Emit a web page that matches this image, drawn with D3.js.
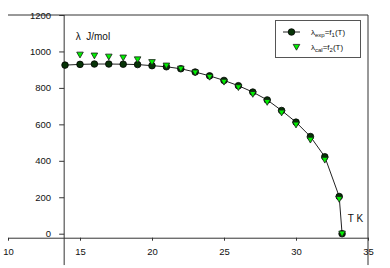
<!DOCTYPE html>
<html>
<head>
<meta charset="utf-8">
<script src="https://cdn.jsdelivr.net/npm/d3@7/dist/d3.min.js"></script>
<style>
  body { margin: 0; background: #fff; }
  svg { display: block; font-family: "Liberation Sans", Arial, sans-serif; }
  .tick text { font-size: 9.5px; fill: #111; }
  .tick line { stroke: #333; }
  .frame { stroke: #333; stroke-width: 1; }
</style>
</head>
<body>
<div id="chart"></div>
<script>
(function () {
  // temperature, K
  const temps = [13.96, 15, 16, 17, 18, 19, 20, 21, 22, 23, 24, 25, 26, 27, 28, 29, 30, 31, 32, 33, 33.2];
  // lambda exp, J/mol
  const lamExp = [925, 929, 931, 931, 930, 928, 922, 916, 905, 887, 866, 841, 812, 777, 734, 676, 612, 533, 422, 204, 0];
  // lambda cal, J/mol (no value at 13.96)
  const calTemps = [15, 16, 17, 18, 19, 20, 21, 22, 23, 24, 25, 26, 27, 28, 29, 30, 31, 32, 33, 33.2];
  const lamCal = [982, 977, 971, 966, 956, 941, 922, 905, 884, 860, 833, 803, 766, 722, 664, 598, 515, 405, 190, 0];

  const xTicks = [10, 15, 20, 25, 30, 35];
  const yTicks = [0, 200, 400, 600, 800, 1000, 1200];

  const width = 390;
  const height = 268;

  const svg = d3.select("#chart").append("svg")
    .attr("width", width)
    .attr("height", height);

  const x = d3.scaleLinear().domain([10, 35]).range([8, 368]);
  const y = d3.scaleLinear().domain([0, 1200]).range([233.7, 15]);

  const yAxisAt = 13.9;   // where the y axis crosses
  const xAxisAt = -22;    // where the x axis crosses
  const yLow = -172;      // axis lines run down to here

  // frame lines
  svg.append("line").attr("class", "frame")
    .attr("x1", x(10)).attr("x2", x(35))
    .attr("y1", y(1200)).attr("y2", y(1200));
  svg.append("line").attr("class", "frame")
    .attr("x1", x(35)).attr("x2", x(35))
    .attr("y1", y(1200)).attr("y2", y(yLow));
  svg.append("line").attr("class", "frame")
    .attr("x1", x(yAxisAt)).attr("x2", x(yAxisAt))
    .attr("y1", y(1200)).attr("y2", y(yLow));

  const xAxis = svg.append("g")
    .attr("transform", "translate(0," + y(xAxisAt) + ")")
    .call(d3.axisBottom(x).tickValues(xTicks).tickFormat(d3.format("d"))
      .tickSize(3).tickSizeOuter(0).tickPadding(8));
  xAxis.select(".domain").attr("stroke", "#333");

  const yAxis = svg.append("g")
    .attr("transform", "translate(" + x(yAxisAt) + ",0)")
    .call(d3.axisLeft(y).tickValues(yTicks).tickFormat(d3.format("d"))
      .tickSize(5).tickPadding(8));
  yAxis.select(".domain").remove();

  // exp line
  const line = d3.line()
    .x(function (d, i) { return x(temps[i]); })
    .y(function (d) { return y(d); });

  svg.append("path")
    .attr("d", line(lamExp))
    .attr("fill", "none")
    .attr("stroke", "#222")
    .attr("stroke-width", 1);

  svg.selectAll("circle.exp")
    .data(lamExp)
    .enter().append("circle")
    .attr("class", "exp")
    .attr("cx", function (d, i) { return x(temps[i]); })
    .attr("cy", function (d) { return y(d); })
    .attr("r", 3.3)
    .attr("fill", "#063306")
    .attr("stroke", "#000")
    .attr("stroke-width", 0.8);

  const tri = "M-3.3,-2.6L3.3,-2.6L0,3.2Z";

  svg.selectAll("path.cal")
    .data(lamCal)
    .enter().append("path")
    .attr("class", "cal")
    .attr("d", tri)
    .attr("transform", function (d, i) {
      return "translate(" + x(calTemps[i]) + "," + y(d) + ")";
    })
    .attr("fill", "#00f000")
    .attr("stroke", "#1a1a1a")
    .attr("stroke-width", 0.8);

  // axis titles
  svg.append("text")
    .attr("x", x(14.7))
    .attr("y", y(1065))
    .attr("font-size", 10)
    .attr("fill", "#111")
    .style("white-space", "pre")
    .text("λ  J/mol");

  svg.append("text")
    .attr("x", x(33.6))
    .attr("y", y(64))
    .attr("font-size", 10)
    .attr("fill", "#111")
    .text("T K");

  // legend
  const legend = svg.append("g");
  legend.append("rect")
    .attr("x", 275.5).attr("y", 20.5)
    .attr("width", 85).attr("height", 37)
    .attr("fill", "#fff")
    .attr("stroke", "#555")
    .attr("stroke-width", 1);

  legend.append("line")
    .attr("x1", 283).attr("x2", 300)
    .attr("y1", 32).attr("y2", 32)
    .attr("stroke", "#222");
  legend.append("circle")
    .attr("cx", 291.5).attr("cy", 32).attr("r", 3.3)
    .attr("fill", "#063306").attr("stroke", "#000").attr("stroke-width", 0.8);
  legend.append("path")
    .attr("d", tri)
    .attr("transform", "translate(296.5,47)")
    .attr("fill", "#00f000").attr("stroke", "#1a1a1a").attr("stroke-width", 0.8);

  function entry(yPos, sub1, sub2) {
    const t = legend.append("text")
      .attr("x", 311).attr("y", yPos)
      .attr("font-size", 8)
      .attr("fill", "#111");
    t.append("tspan").text("λ");
    t.append("tspan").attr("font-size", 6).attr("dy", 2).text(sub1);
    t.append("tspan").attr("dy", -2).text("=f");
    t.append("tspan").attr("font-size", 6).attr("dy", 2).text(sub2);
    t.append("tspan").attr("dy", -2).text("(T)");
  }
  entry(35, "exp", "1");
  entry(50, "cal", "2");
})();
</script>
</body>
</html>
